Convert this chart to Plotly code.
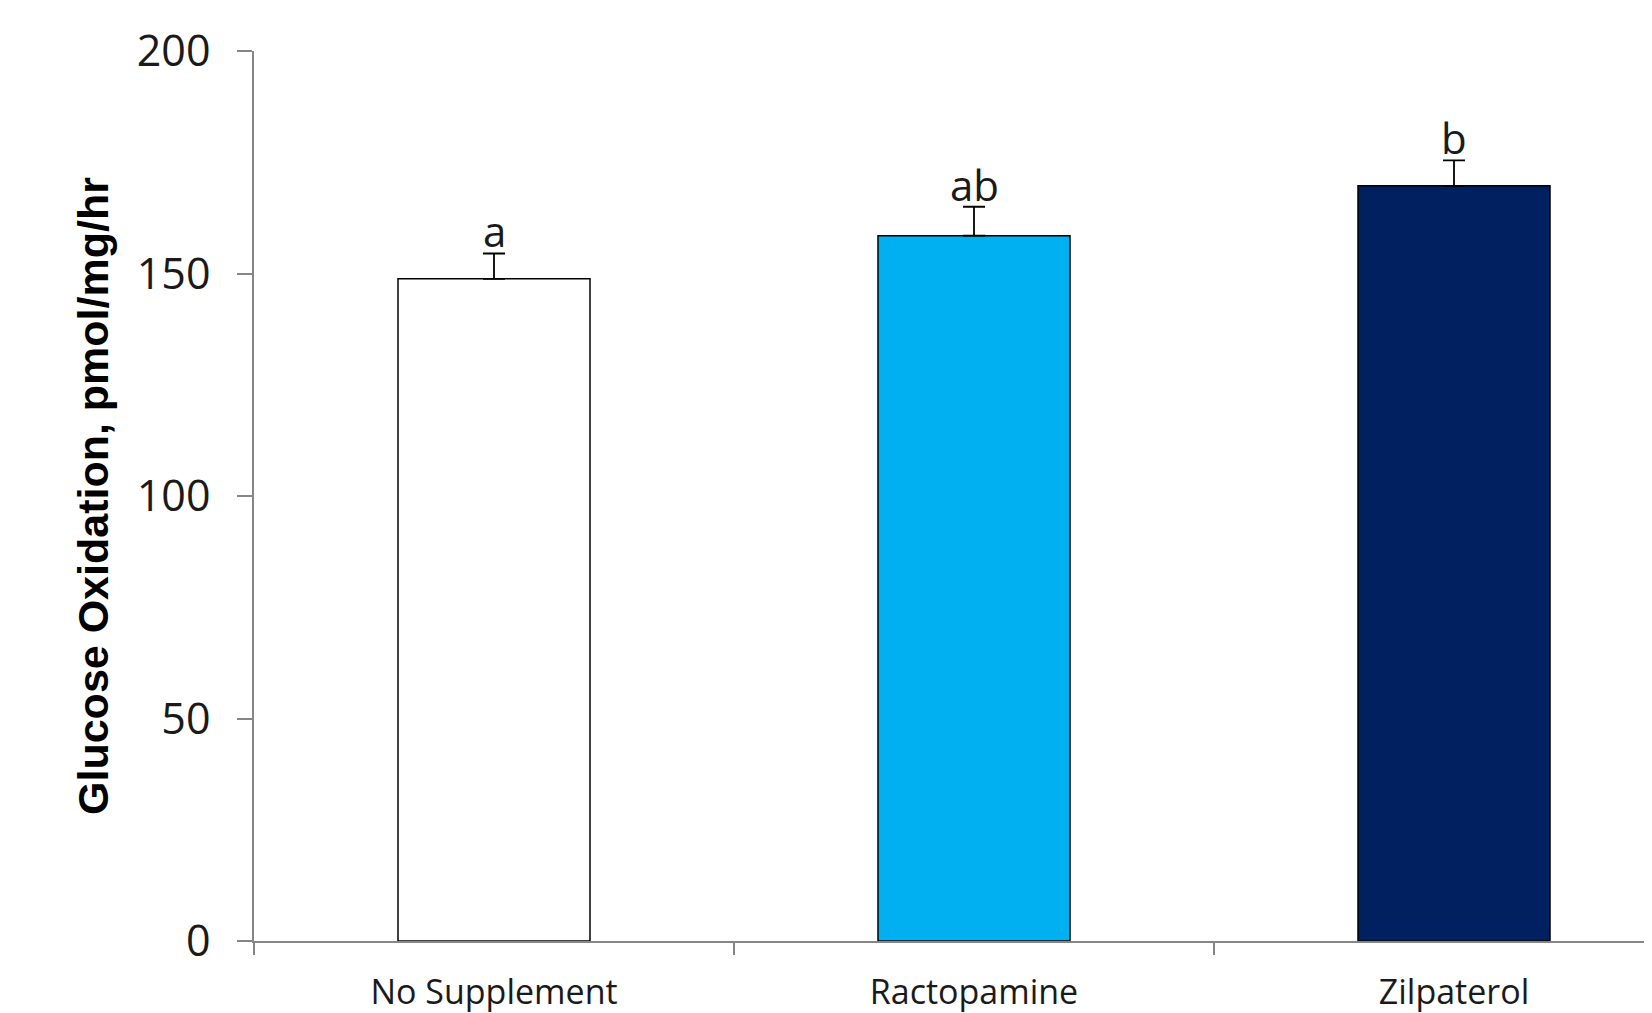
import plotly.graph_objects as go

categories = ["No Supplement", "Ractopamine", "Zilpaterol"]
values = [148.8, 158.5, 169.7]
errors = [5.7, 6.5, 5.7]
letters = ["a", "ab", "b"]
colors = ["#FFFFFF", "#00B0F0", "#002060"]
y_ticks = [0, 50, 100, 150, 200]

fig = go.Figure()
fig.add_trace(go.Bar(
    x=categories, y=values, width=0.4,
    marker=dict(color=colors, line=dict(color="#000000", width=1.5)),
    error_y=dict(type="data", array=errors, arrayminus=[0]*len(errors), symmetric=False,
                 color="#000000", thickness=1.8, width=11),
    showlegend=False,
))

for c, v, e, t in zip(categories, values, errors, letters):
    fig.add_annotation(x=c, y=v + e, text=t, showarrow=False, yanchor="bottom",
                       yshift=-8, font=dict(family="Open Sans", size=42, color="#1a1a1a"))

fig.update_layout(
    width=1644, height=1005,
    paper_bgcolor="white", plot_bgcolor="white",
    margin=dict(l=246, r=0, t=43, b=72),
    font=dict(family="Open Sans", color="#1a1a1a"),
    bargap=0.6,
)
fig.update_xaxes(
    range=[-0.5, 2.4125], showline=True, linecolor="#868686", linewidth=1.8,
    ticks="outside", tickson="boundaries", ticklen=12, tickcolor="#868686", tickwidth=1.5,
    tickfont=dict(family="Open Sans", size=34, color="#1a1a1a"), showgrid=False,
    ticklabelstandoff=20, automargin=False,
)
fig.update_yaxes(
    range=[0, 200], tickvals=y_ticks, showline=True, linecolor="#868686", linewidth=1.8,
    ticks="outside", ticklen=15, tickcolor="#868686", tickwidth=1.5,
    tickfont=dict(family="Open Sans", size=43, color="#1a1a1a"), showgrid=False, zeroline=False,
    ticklabelstandoff=18, automargin=False,
    title=dict(text="<b>Glucose Oxidation, pmol/mg/hr</b>", standoff=15,
               font=dict(family="Liberation Sans", size=43, color="#000000")),
)

fig.write_html("out.html")
